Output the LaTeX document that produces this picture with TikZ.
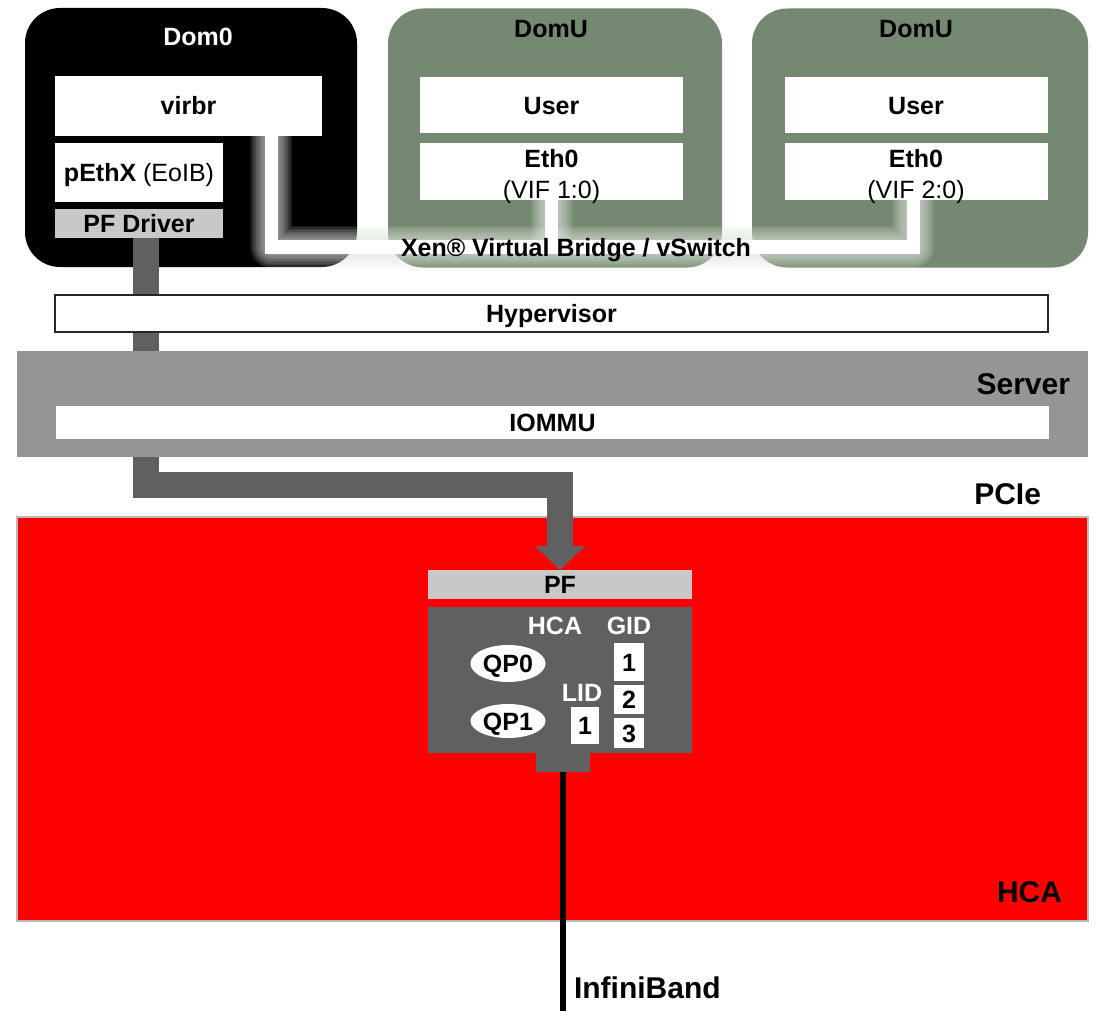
\documentclass[tikz,border=0pt]{standalone}
\usepackage{fontspec}
\setmainfont{Liberation Sans}
\usetikzlibrary{shapes.geometric}

\definecolor{domgreen}{HTML}{758972}
\definecolor{servergray}{HTML}{959595}
\definecolor{lightbar}{HTML}{C8C8C8}
\definecolor{chipgray}{HTML}{606060}
\definecolor{hcared}{HTML}{FF0000}
\definecolor{haze}{HTML}{DCE3DA}

\tikzset{
  every node/.style={inner sep=0pt, outer sep=0pt},
  sized/.style 2 args={minimum width=#1, minimum height=#2},
  txt/.style={font=\fontsize{25}{30}\selectfont\bfseries, text height=18, text depth=0},
  bigtxt/.style={font=\fontsize{30}{36}\selectfont\bfseries, text height=21.5, text depth=0},
  whitebox/.style={rectangle, fill=white, txt},
  barbox/.style={rectangle, fill=lightbar, txt},
  vmbox/.style={rectangle, rounded corners=35},
  numbox/.style={rectangle, fill=white, txt},
  qpnode/.style={ellipse, fill=white, txt},
  chiplabel/.style={txt, text=white},
}

\begin{document}
\begin{tikzpicture}[x=1pt, y=-1pt]
\useasboundingbox (0,0) rectangle (1095,1011);

% HCA card (drawn first, the PCIe link ends on it)
\node[fill=hcared, draw=gray!55, line width=2, sized={1071}{404}] (card) at (552.5,719) {};

% guest and control domains
\node[vmbox, fill=black, sized={332}{259}] (dom0) at (191,137.5) {};
\node[vmbox, fill=domgreen, sized={334}{259}] (domu1) at (555,138) {};
\node[vmbox, fill=domgreen, sized={336}{259}] (domu2) at (920,138) {};

\node[txt, text=white] (dom0t) at (198,37) {Dom0};
\node[txt] (domu1t) at (551,29) {DomU};
\node[txt] (domu2t) at (916,29) {DomU};

% Dom0 stack
\node[whitebox, sized={267}{60}] (virbr) at (188.5,106) {virbr};
\node[whitebox, sized={168}{59}] (pethx) at (139,172.5) {pEthX \mdseries(EoIB)};
\node[barbox, sized={168}{29}] (pfd) at (139,223.5) {PF Driver};

% DomU stacks
\node[whitebox, sized={263}{56}] (user1) at (551.5,105.5) {User};
\node[whitebox, sized={263}{57}] (eth1) at (551.5,172) {};
\node[txt] (eth1a) at (551.5,159) {Eth0};
\node[txt, font=\fontsize{25}{30}\selectfont\mdseries] (eth1b) at (551.5,190) {(VIF 1:0)};

\node[whitebox, sized={263}{56}] (user2) at (916,105.5) {User};
\node[whitebox, sized={263}{57}] (eth2) at (916,172) {};
\node[txt] (eth2a) at (916,159) {Eth0};
\node[txt, font=\fontsize{25}{30}\selectfont\mdseries] (eth2b) at (916,190) {(VIF 2:0)};

% virtual bridge with its soft halo
\coordinate (bL) at (271,247);
\coordinate (bR) at (913,247);
\foreach \w in {42,39,...,15}{
  \draw[haze, opacity=0.1, line width=\w, line join=round]
    (virbr.south -| bL) -- (bL) -- (bR) -- (eth2.south -| bR);
  \draw[haze, opacity=0.1, line width=\w] (eth1.south) -- (eth1.south |- bL);
}
\draw[white, line width=13, line join=miter]
  (virbr.south -| bL) -- (bL) -- (bR) -- (eth2.south -| bR);
\draw[white, line width=13] (eth1.south) -- (eth1.south |- bL);
\node[txt] (bridge) at (576,247) {Xen® Virtual Bridge / vSwitch};

% PF driver to PF link (passes behind hypervisor and server)
\node[barbox, sized={264}{29}] (pf) at (560,584.5) {PF};
\coordinate (pfx) at ([xshift=7]pfd.south);
\coordinate (turn1) at (146,485);
\coordinate (turn2) at (560,485);
\coordinate (ahead) at (560,546);
\draw[chipgray, line width=26, line join=miter] (pfx) -- (turn1) -- (turn2) -- (ahead);
\fill[chipgray] ([xshift=-25]ahead) -- ([xshift=25]ahead) -- (pf.north) -- cycle;

% hypervisor and server
\node[whitebox, draw=black!85, line width=2, sized={993}{37}] (hyp) at (551.5,313.5) {Hypervisor};
\node[fill=servergray, sized={1071}{106}] (server) at (552.5,404) {};
\node[whitebox, sized={993}{33}] (iommu) at (552.5,422.5) {IOMMU};
\node[bigtxt, anchor=east] (servert) at (1070,384) {Server};
\node[bigtxt, anchor=east] (pcie) at (1041,494) {PCIe};
\node[bigtxt, anchor=east] (hcat) at (1062,892) {HCA};

% HCA chip
\node[fill=chipgray, sized={264}{146}] (chip) at (560,680) {};
\node[fill=chipgray, sized={54}{20}] (tab) at (563,762) {};
\node[chiplabel] (chipt) at (555,625) {HCA};
\node[chiplabel] (gidt) at (629,625) {GID};
\node[chiplabel] (lidt) at (582,692) {LID};
\node[qpnode, sized={75}{37}] (qp0) at (508,663.5) {QP0};
\node[qpnode, sized={75}{34}] (qp1) at (508,721) {QP1};
\node[numbox, sized={28}{37}] (lid1) at (585,725) {1};
\node[numbox, sized={30}{38}] (gid1) at (629,662) {1};
\node[numbox, sized={30}{29}] (gid2) at (629,699) {2};
\node[numbox, sized={30}{30}] (gid3) at (629,733) {3};

% InfiniBand link
\coordinate (ibend) at (563,1011);
\draw[black, line width=6] (tab.south) -- (ibend);
\node[bigtxt, anchor=west] (ib) at (574,988) {InfiniBand};
\end{tikzpicture}
\end{document}
